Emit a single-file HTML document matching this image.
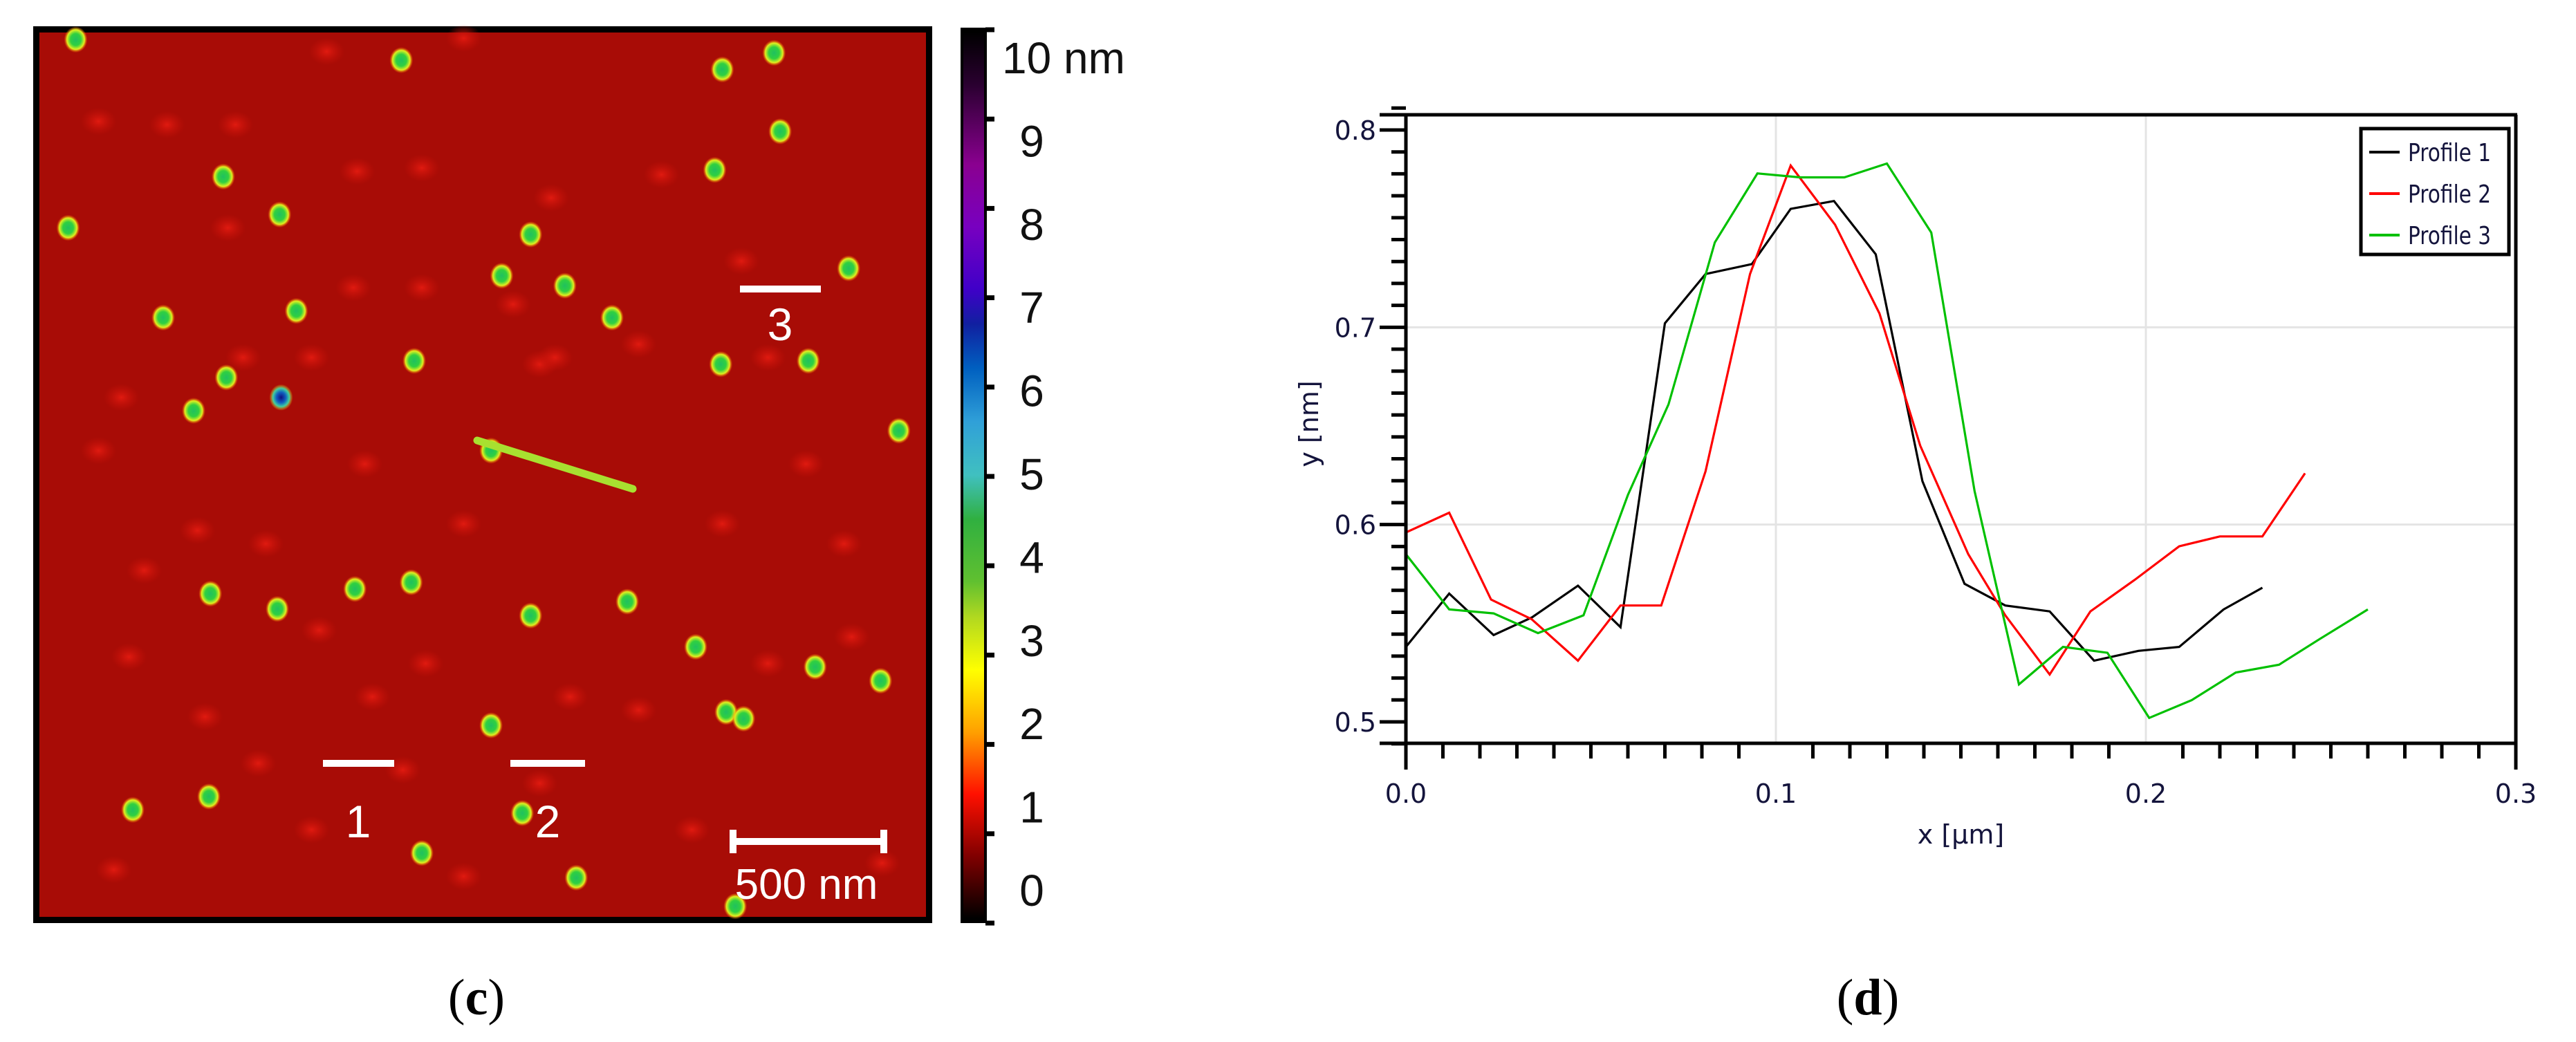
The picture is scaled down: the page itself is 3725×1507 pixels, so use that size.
<!DOCTYPE html>
<html><head><meta charset="utf-8">
<style>
html,body{margin:0;padding:0;background:#fff;}
body{width:3725px;height:1507px;position:relative;overflow:hidden;}
svg{position:absolute;left:0;top:0;}
</style></head>
<body>
<svg id="s" width="3725" height="1507" viewBox="0 0 3725 1507" xmlns="http://www.w3.org/2000/svg">
<defs>
<linearGradient id="cb" x1="0" y1="0" x2="0" y2="1">
<stop offset="0" stop-color="#000000"/>
<stop offset="0.06" stop-color="#2a0030"/>
<stop offset="0.15" stop-color="#8a0090"/>
<stop offset="0.22" stop-color="#7800c0"/>
<stop offset="0.29" stop-color="#4000c8"/>
<stop offset="0.33" stop-color="#1020a0"/>
<stop offset="0.38" stop-color="#0060c0"/>
<stop offset="0.44" stop-color="#30a0d8"/>
<stop offset="0.50" stop-color="#40c0c0"/>
<stop offset="0.55" stop-color="#30b040"/>
<stop offset="0.62" stop-color="#60c030"/>
<stop offset="0.66" stop-color="#b0d820"/>
<stop offset="0.72" stop-color="#ffff00"/>
<stop offset="0.79" stop-color="#ffa000"/>
<stop offset="0.86" stop-color="#ff1000"/>
<stop offset="0.93" stop-color="#800000"/>
<stop offset="1" stop-color="#000000"/>
</linearGradient>
<radialGradient id="pg"><stop offset="0" stop-color="#20c060"/><stop offset="0.45" stop-color="#30d040"/><stop offset="0.75" stop-color="#e0f020"/><stop offset="1" stop-color="#ff6000" stop-opacity="0"/></radialGradient>
<radialGradient id="pb"><stop offset="0" stop-color="#101080"/><stop offset="0.4" stop-color="#1060c0"/><stop offset="0.7" stop-color="#40d0a0"/><stop offset="1" stop-color="#ffd000" stop-opacity="0"/></radialGradient>
<radialGradient id="rb"><stop offset="0" stop-color="#e01a10"/><stop offset="1" stop-color="#c81008" stop-opacity="0"/></radialGradient>
</defs>

<g id="afm">
<rect x="48" y="38" width="1300" height="1297" fill="#000"/>
<rect x="57" y="47" width="1282" height="1279" fill="#a80c06"/>
<g id="blobs"></g>
<g id="parts"></g>
<line x1="690" y1="637" x2="915" y2="707" stroke="#a8e030" stroke-width="11" stroke-linecap="round"/>
<g stroke="#fff" stroke-width="10" fill="none">
<line x1="467" y1="1104" x2="570" y2="1104"/>
<line x1="738" y1="1104" x2="846" y2="1104"/>
<line x1="1070" y1="418" x2="1187" y2="418"/>
<line x1="1060" y1="1217" x2="1278" y2="1217"/>
<line x1="1060" y1="1200" x2="1060" y2="1234"/><line x1="1278" y1="1200" x2="1278" y2="1234"/>
</g>
<g fill="#fff" font-family="Liberation Sans, sans-serif" font-size="66" text-anchor="middle">
<text x="518" y="1211">1</text>
<text x="792" y="1211">2</text>
<text x="1128" y="492">3</text>
<text x="1166" y="1300" font-size="62">500 nm</text>
</g>
</g>

<g id="colorbar">
<rect x="1389" y="40" width="38" height="1295" fill="#000"/>
<rect x="1393" y="46" width="30" height="1282" fill="url(#cb)"/>
<g id="cbt"></g>
</g>

<g id="plot"></g>

<text x="689" y="1467" font-family="Liberation Serif, serif" font-size="74" text-anchor="middle">(<tspan font-weight="bold">c</tspan>)</text>
<text x="2701" y="1467" font-family="Liberation Serif, serif" font-size="74" text-anchor="middle">(<tspan font-weight="bold">d</tspan>)</text>
</svg>
<script>
// ---------- chart data ----------
const p1x=[0,0.0117,0.0237,0.0341,0.0465,0.058,0.070,0.081,0.0935,0.104,0.1157,0.127,0.1396,0.151,0.162,0.174,0.186,0.198,0.209,0.221,0.2315];
const p1y=[0.538,0.565,0.544,0.553,0.569,0.548,0.702,0.727,0.732,0.760,0.764,0.737,0.622,0.570,0.559,0.556,0.531,0.536,0.538,0.557,0.568];
const p2x=[0,0.0117,0.023,0.034,0.0465,0.058,0.069,0.081,0.093,0.104,0.116,0.128,0.139,0.152,0.162,0.174,0.185,0.197,0.209,0.220,0.2315,0.243];
const p2y=[0.596,0.606,0.562,0.552,0.531,0.559,0.559,0.627,0.727,0.782,0.752,0.707,0.640,0.585,0.554,0.524,0.556,0.572,0.589,0.594,0.594,0.626];
const p3x=[0,0.0117,0.0237,0.0357,0.048,0.060,0.071,0.0835,0.095,0.1065,0.1185,0.130,0.142,0.1537,0.1657,0.1776,0.1896,0.2009,0.2124,0.2243,0.236,0.247,0.260];
const p3y=[0.585,0.557,0.555,0.545,0.554,0.615,0.661,0.743,0.778,0.776,0.776,0.783,0.748,0.617,0.519,0.538,0.535,0.502,0.511,0.525,0.529,0.542,0.557];
const xTickLabels=["0.0","0.1","0.2","0.3"];
const xTickVals=[0,0.1,0.2,0.3];
const yTickLabels=["0.5","0.6","0.7","0.8"];
const yTickVals=[0.5,0.6,0.7,0.8];
const seriesNames=["Profile 1","Profile 2","Profile 3"];
const cbLabels=["0","1","2","3","4","5","6","7","8","9","10 nm"];

const NS="http://www.w3.org/2000/svg";
function mk(tag,attrs,parent){const e=document.createElementNS(NS,tag);for(const k in attrs)e.setAttribute(k,attrs[k]);parent.appendChild(e);return e;}
const L=2033,R=3638,T=166,B=1075;
const X=v=>L+(v-0)/(0.3)*(R-L);
const Y=v=>1044-(v-0.5)/0.3*(1044-188);
const plot=document.getElementById('plot');

// grid
[0.1,0.2].forEach(v=>{const g=mk('line',{x1:X(v),x2:X(v),y1:T,y2:B,stroke:'#e4e4e4','stroke-width':3},plot);});
[0.6,0.7].forEach(v=>{const g=mk('line',{x1:L,x2:R,y1:Y(v),y2:Y(v),stroke:'#e4e4e4','stroke-width':3},plot);});

// series
const cols=['#000000','#ff0000','#00c000'];
[[p1x,p1y],[p2x,p2y],[p3x,p3y]].forEach((s,i)=>{
  const pts=s[0].map((x,j)=>X(x).toFixed(1)+','+Y(s[1][j]).toFixed(1)).join(' ');
  const pl=mk('polyline',{points:pts,fill:'none',stroke:cols[i],'stroke-width':3.2,'stroke-linejoin':'miter'},plot);
  
  
});

// axes frame
const ax=mk('g',{stroke:'#000','stroke-width':5,fill:'none'},plot);


mk('line',{x1:1995,x2:R+2,y1:T,y2:T},ax);
mk('line',{x1:1995,x2:R+2,y1:B,y2:B},ax);
mk('line',{x1:L,x2:L,y1:T,y2:1113},ax);
mk('line',{x1:R,x2:R,y1:T,y2:1113},ax);
for(let k=1;k<30;k++){if(k%10===0)continue;mk('line',{x1:X(k*0.01),x2:X(k*0.01),y1:B,y2:1097},ax);}
for(let k=-1;k<=28;k++){const v=0.5+k/90;if(k%9===0)continue;mk('line',{x1:2012,x2:L,y1:Y(v),y2:Y(v)},ax);}
yTickVals.forEach(v=>mk('line',{x1:1995,x2:L,y1:Y(v),y2:Y(v)},ax));

// tick labels
const F='DejaVu Sans, Liberation Sans, sans-serif';
xTickVals.forEach((v,i)=>{const t=mk('text',{x:X(v),y:1161,'font-family':F,'font-size':38,'text-anchor':'middle',fill:'#14143c'},plot);t.textContent=xTickLabels[i];});
yTickVals.forEach((v,i)=>{const t=mk('text',{x:1990,y:Y(v)+14,'font-family':F,'font-size':38,'text-anchor':'end',fill:'#14143c'},plot);t.textContent=yTickLabels[i];});
let t=mk('text',{x:(L+R)/2,y:1220,'font-family':F,'font-size':38,'text-anchor':'middle',fill:'#14143c'},plot);t.textContent='x [µm]';


t=mk('text',{x:0,y:0,'font-family':F,'font-size':38,'text-anchor':'middle',fill:'#14143c',transform:'translate(1906,613) rotate(-90)'},plot);t.textContent='y [nm]';



// legend
const lg=mk('g',{},plot);


mk('rect',{x:3414,y:186,width:214,height:182,fill:'#fff',stroke:'#000','stroke-width':5},lg);
seriesNames.forEach((n,i)=>{const y=220+i*60;
  const e=mk('g',{},lg);
  
  
  mk('line',{x1:3426,x2:3470,y1:y,y2:y,stroke:cols[i],'stroke-width':4},e);
  const tx=mk('text',{x:3482,y:y+13,'font-family':F,'font-size':36,fill:'#14143c',textLength:120,lengthAdjust:'spacingAndGlyphs'},e);tx.textContent=n;});

// colorbar ticks and labels
const cbt=document.getElementById('cbt');
for(let k=0;k<=10;k++){const y=43+k*129.2;mk('line',{x1:1425,x2:1438,y1:y,y2:y,stroke:'#000','stroke-width':7},cbt);}
cbLabels.forEach((s,k)=>{const yc=1287-k*120.4;
  const tx=mk('text',{x:k===10?1449:1492,y:yc+23,'font-family':'Liberation Sans, sans-serif','font-size':64,'text-anchor':k===10?'start':'middle',fill:'#111'},cbt);
  tx.textContent=s;
  
  });

// AFM particles (positions, zoom coords)
const partZ=[[90,62],[518,93],[940,107],[1008,82],[1016,200],[930,258],[284,268],[358,325],[80,345],[688,355],[650,417],[733,432],[1106,406],[205,480],[380,470],[795,480],[535,545],[938,550],[1053,545],[288,570],[245,620],[360,600,1],[636,680],[1172,650],[267,895],[355,918],[457,888],[531,878],[688,928],[815,907],[905,975],[1062,1005],[1148,1026],[945,1073],[968,1083],[636,1093],[265,1200],[165,1220],[677,1225],[545,1285],[748,1322],[957,1365]];
const parts=document.getElementById('parts');
partZ.forEach(p=>{const x=60+(p[0]-45)*1.1,y=38+(p[1]-42)*0.962;
  const c=mk('ellipse',{cx:x,cy:y,rx:17,ry:19,fill:p[2]?'url(#pb)':'url(#pg)'},parts);
  
  });
const blobZ=[[300,190],[420,80],[600,60],[210,190],[120,185],[400,540],[700,550],[1000,540],[460,260],[545,255],[290,345],[715,300],[860,265],[965,395],[455,435],[545,435],[665,460],[720,540],[830,520],[150,600],[310,540],[120,680],[470,700],[1050,700],[250,800],[340,820],[600,790],[940,790],[1100,820],[180,860],[410,950],[550,1000],[740,1050],[830,1070],[1110,960],[160,990],[260,1080],[480,1050],[1000,1000],[400,1250],[600,1320],[140,1310],[900,1250],[1150,1300],[700,1180],[330,1150],[520,1160]];
const blobs=document.getElementById('blobs');
blobZ.forEach(p=>{const x=60+(p[0]-45)*1.1,y=38+(p[1]-42)*0.962;
  mk('ellipse',{cx:x,cy:y,rx:26,ry:20,fill:'url(#rb)'},blobs);});
</script>
</body></html>
